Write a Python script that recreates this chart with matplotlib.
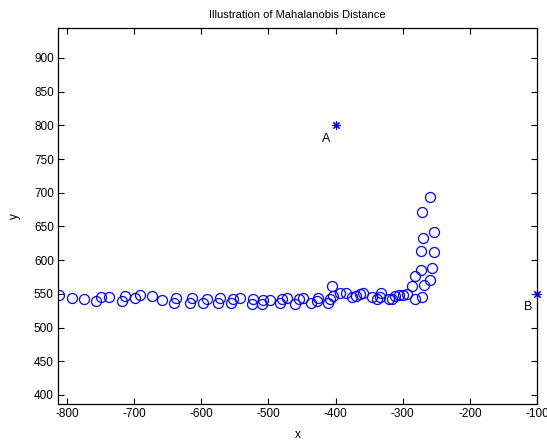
import matplotlib
matplotlib.use("Agg")
import matplotlib.pyplot as plt

plt.rcParams['font.family'] = ['Liberation Sans', 'DejaVu Sans']
plt.rcParams['axes.unicode_minus'] = False

x_pts = [-812, -793, -775, -757, -750, -737, -718, -714, -698, -692,
         -674, -658, -640, -637, -617, -614, -597, -592, -575, -572,
         -555, -553, -543, -525, -523, -509, -508, -497, -483, -480,
         -472, -460, -455, -448, -436, -427, -426, -412, -408, -406,
         -404, -394, -384, -375, -369, -364, -359, -346, -338, -334,
         -332, -320, -316, -312, -306, -300, -294, -286, -281, -281,
         -273, -273, -271, -271, -270, -268, -260, -260, -257, -253, -253]
y_pts = [548, 544, 543, 540, 545, 545, 540, 547, 544, 548,
         547, 541, 536, 544, 536, 544, 536, 542, 536, 544,
         537, 543, 544, 535, 542, 535, 541, 541, 537, 542,
         544, 535, 543, 544, 537, 539, 544, 537, 542, 561,
         547, 552, 551, 545, 547, 550, 552, 545, 543, 546,
         552, 543, 543, 547, 548, 549, 550, 561, 542, 576,
         586, 614, 545, 671, 633, 563, 571, 694, 588, 612, 642]

pointA = (-400, 800)
pointB = (-100, 550)
labelA = ('A', -420, 780)
labelB = ('B', -120, 530)

title = 'Illustration of Mahalanobis Distance'
xticks = [-800, -700, -600, -500, -400, -300, -200, -100]
yticks = [400, 450, 500, 550, 600, 650, 700, 750, 800, 850, 900]

fig = plt.figure(figsize=(5.47, 4.44), dpi=100)
ax = fig.add_axes([58/547, 1-404/444, (537-58)/547, (404-28)/444])

ax.plot(x_pts, y_pts, linestyle='none', marker='o', markersize=7.2,
        markerfacecolor='none', markeredgecolor='#0000ff', markeredgewidth=0.9)
ax.plot([pointA[0]], [pointA[1]], linestyle='none', marker=(8, 2, 0),
        markersize=6, markeredgecolor='#0000ff', markeredgewidth=0.8, clip_on=False)
ax.plot([pointB[0]], [pointB[1]], linestyle='none', marker=(8, 2, 0),
        markersize=6, markeredgecolor='#0000ff', markeredgewidth=0.8, clip_on=False)

for lab, lx, ly in (labelA, labelB):
    ax.text(lx, ly, lab, fontsize=9, ha='left', va='center', color='black')

ax.set_xlim(-813.4, -100)
ax.set_ylim(386.6, 944.5)
ax.set_xticks(xticks)
ax.set_yticks(yticks)
ax.tick_params(direction='in', length=4, width=0.8, top=True, right=True,
               labelsize=8.5, pad=3)
for s in ax.spines.values():
    s.set_linewidth(0.9)
ax.set_title(title, fontsize=8, pad=7)
ax.set_xlabel('x', fontsize=8.5, labelpad=6)
ax.set_ylabel('y', fontsize=8.5, labelpad=9)

fig.savefig('out.png', dpi=100)
